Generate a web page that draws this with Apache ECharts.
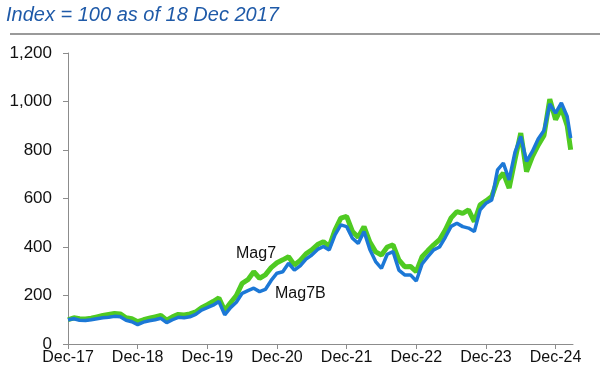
<!DOCTYPE html>
<html>
<head>
<meta charset="utf-8">
<script src="https://cdn.jsdelivr.net/npm/echarts@6/dist/echarts.min.js"></script>
<style>
	html, body {margin: 0; padding: 0; background: #fff;}
	#chart {width: 600px; height: 377px;}
</style>
</head>
<body>
<div id="chart"></div>
<script>
// months since Dec-17
const months = [0, 1, 2, 3, 4, 5, 6, 7, 8, 9, 10, 11, 12, 13, 14, 15, 16, 17, 18, 19,
	20, 21, 22, 23, 24, 25, 26, 27, 28, 29, 30, 31, 32, 33, 34, 35, 36, 37, 38, 39,
	40, 41, 42, 43, 44, 45, 46, 47, 48, 49, 50, 51, 52, 53, 54, 55, 56, 57, 58, 59,
	60, 61, 62, 63, 64, 65, 66, 67, 68, 69, 70, 71, 72, 73, 74, 75, 76, 77, 78, 79,
	80, 81, 82, 83, 84, 85, 86, 86.6];

const mag7 = [100, 108, 104, 103, 106, 112, 118, 122, 126, 124, 108, 104, 92, 100, 106, 112, 118, 98, 112, 122,
	120, 124, 132, 150, 162, 175, 190, 138, 170, 200, 250, 265, 298, 271, 285, 315, 335, 347, 360, 326,
	345, 372, 388, 410, 422, 402, 470, 519, 526, 464, 440, 484, 420, 380, 367, 400, 409, 347, 319, 320,
	298, 360, 385, 409, 430, 470, 520, 546, 539, 553, 505, 574, 590, 608, 677, 705, 643, 760, 870, 711,
	773, 820, 860, 1010, 925, 973, 900, 801];

const mag7b = [100, 104, 98, 97, 100, 104, 108, 110, 114, 112, 98, 92, 80, 90, 96, 100, 106, 88, 100, 110,
	108, 112, 122, 140, 150, 160, 175, 120, 150, 172, 209, 220, 230, 216, 225, 262, 292, 298, 333, 305,
	322, 350, 367, 390, 402, 388, 450, 491, 484, 436, 415, 464, 390, 340, 312, 370, 381, 305, 285, 285,
	260, 330, 360, 388, 400, 440, 485, 498, 484, 478, 464, 553, 580, 594, 718, 746, 677, 790, 856, 753,
	794, 845, 880, 990, 952, 994, 938, 849];

const yearTicks = [0, 12, 24, 36, 48, 60, 72, 84];

let myChart = echarts.init(document.getElementById('chart'));

let pair = (vals) => months.map((m, i) => [m, vals[i]]);

let option = {
	animation: false,
	textStyle: {fontFamily: 'Liberation Sans, Arial, sans-serif'},
	grid: {left: 68, right: 27, top: 53, bottom: 33},
	xAxis: {
		type: 'value',
		min: 0,
		max: 87,
		interval: 12,
		splitLine: {show: false},
		axisLine: {lineStyle: {color: '#8c8c8c', width: 1}},
		axisTick: {show: true, length: 5, lineStyle: {color: '#8c8c8c'}, customValues: yearTicks},
		axisLabel: {
			customValues: yearTicks,
			color: '#111',
			fontSize: 16,
			margin: 6,
			formatter: v => 'Dec-' + (17 + v / 12)
		}
	},
	yAxis: {
		type: 'value',
		min: 0,
		max: 1200,
		interval: 200,
		splitLine: {show: false},
		axisLine: {show: true, lineStyle: {color: '#8c8c8c', width: 1}},
		axisTick: {show: true, length: 5, lineStyle: {color: '#8c8c8c'}},
		axisLabel: {
			color: '#111',
			fontSize: 17,
			margin: 16,
			formatter: v => v.toLocaleString('en-US')
		}
	},
	series: [{
		name: 'Mag7',
		type: 'line',
		data: pair(mag7),
		showSymbol: false,
		lineStyle: {color: '#4fca22', width: 5}
	}, {
		name: 'Mag7B',
		type: 'line',
		data: pair(mag7b),
		showSymbol: false,
		lineStyle: {color: '#1c78d6', width: 3.5}
	}],
	graphic: [{
		type: 'text',
		left: 6,
		top: 5,
		style: {
			text: 'Index = 100 as of 18 Dec 2017',
			font: 'italic 20px Liberation Sans, Arial, sans-serif',
			fill: '#1f5aa8'
		}
	}, {
		type: 'line',
		shape: {x1: 10, y1: 34, x2: 600, y2: 34},
		style: {stroke: '#9a9a9a', lineWidth: 2}
	}, {
		type: 'text',
		left: 236,
		top: 246,
		style: {text: 'Mag7', font: '16px Liberation Sans, Arial, sans-serif', fill: '#111'}
	}, {
		type: 'text',
		left: 275,
		top: 286,
		style: {text: 'Mag7B', font: '16px Liberation Sans, Arial, sans-serif', fill: '#111'}
	}]
};

myChart.setOption(option);
</script>
</body>
</html>
